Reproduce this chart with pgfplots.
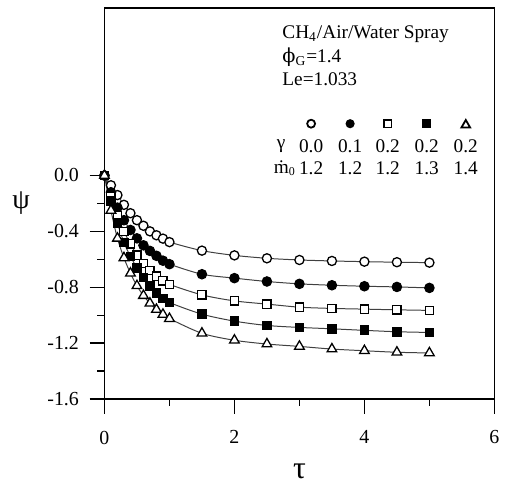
\documentclass[border=0pt]{standalone}
\usepackage{fontspec}
\setmainfont{Liberation Serif}
\newfontfamily\dvserif{DejaVu Serif}
\usepackage{pgfplots}
\usepackage{pgfplotstable}
\pgfplotsset{compat=1.18}

% psi vs tau, five spray cases
\pgfplotstableread{
tau  s1     s2     s3     s4     s5
0.0  0.000  0.000  0.000  0.000  0.000
0.1 -0.070 -0.120 -0.150 -0.180 -0.250
0.2 -0.140 -0.230 -0.290 -0.340 -0.450
0.3 -0.210 -0.320 -0.400 -0.480 -0.590
0.4 -0.270 -0.390 -0.490 -0.580 -0.700
0.5 -0.320 -0.450 -0.570 -0.660 -0.790
0.6 -0.360 -0.500 -0.630 -0.730 -0.860
0.7 -0.400 -0.540 -0.680 -0.790 -0.915
0.8 -0.428 -0.575 -0.720 -0.840 -0.960
0.9 -0.452 -0.610 -0.755 -0.880 -0.995
1.0 -0.477 -0.635 -0.780 -0.910 -1.025
1.5 -0.538 -0.707 -0.855 -0.993 -1.130
2.0 -0.572 -0.735 -0.898 -1.043 -1.180
2.5 -0.593 -0.759 -0.921 -1.074 -1.207
3.0 -0.605 -0.776 -0.943 -1.088 -1.224
3.5 -0.612 -0.786 -0.952 -1.098 -1.243
4.0 -0.617 -0.793 -0.957 -1.109 -1.255
4.5 -0.621 -0.798 -0.962 -1.119 -1.266
5.0 -0.624 -0.805 -0.966 -1.124 -1.271
}\psidata

\newcommand{\txt}{\fontsize{9.7}{11}\selectfont}

\begin{document}
\begin{tikzpicture}
\begin{axis}[
    scale only axis,
    width=196pt, height=196.5pt,
    xmin=0, xmax=6, ymin=-1.6, ymax=1.2,
    xtick={0,2,4,6}, minor xtick={1,3,5},
    ytick={-1.6,-1.2,-0.8,-0.4,0}, minor ytick={-1.4,-1.0,-0.6,-0.2},
    tick align=outside, xtick pos=left, ytick pos=left,
    major tick length=7.5pt, minor tick length=3.5pt,
    tick style={black, line width=0.6pt},
    axis line style={line width=0.7pt},
    /pgf/number format/assume math mode=true,
    ticklabel style={font=\fontsize{10}{12}\selectfont},
    x tick label style={yshift=-5pt},
    y tick label style={xshift=-1.8pt, /pgf/number format/fixed, /pgf/number format/fixed zerofill, /pgf/number format/precision=1},
    xlabel={τ}, ylabel={ψ},
    xlabel style={font=\fontsize{16}{18}\selectfont, yshift=-3pt},
    ylabel style={font=\fontsize{14}{16}\selectfont, rotate=-90, xshift=-2pt},
    clip=false,
    every axis plot/.append style={smooth, line width=0.5pt, black!75},
]

\addplot[mark=*, mark size=2.3pt, mark options={black, fill=white, line width=0.65pt}] table[x=tau, y=s1] {\psidata};
\addplot[mark=*, mark size=2.4pt, mark options={black, fill=black}] table[x=tau, y=s2] {\psidata};
\addplot[mark=square*, mark size=2.1pt, mark options={black, fill=white, line width=0.65pt}] table[x=tau, y=s3] {\psidata};
\addplot[mark=square*, mark size=2.2pt, mark options={black, fill=black}] table[x=tau, y=s4] {\psidata};
\addplot[mark=triangle*, mark size=2.8pt, mark options={black, fill=white, line width=0.65pt}] table[x=tau, y=s5] {\psidata};

% case description
\node[anchor=west, font=\txt] at (axis cs:2.63,1.014) {CH\textsubscript{4}/Air/Water Spray};
\node[anchor=west, font=\txt] at (axis cs:2.63,0.850) {{\dvserif ϕ}\textsubscript{G}=1.4};
\node[anchor=west, font=\txt] at (axis cs:2.63,0.693) {Le=1.033};

% key table
\node at (axis cs:3.18,0.371) {\tikz\draw[line width=0.9pt, fill=white] (0,0) circle (2pt);};
\node at (axis cs:3.78,0.371) {\tikz\fill (0,0) circle (2.3pt);};
\node at (axis cs:4.36,0.371) {\tikz\draw[line width=0.9pt, fill=white] (-1.9pt,-1.9pt) rectangle (1.9pt,1.9pt);};
\node at (axis cs:4.96,0.371) {\tikz\fill (-2.2pt,-2.2pt) rectangle (2.2pt,2.2pt);};
\node at (axis cs:5.56,0.371) {\tikz\draw[line width=0.9pt, fill=white] (90:2.5pt) -- (210:2.5pt) -- (330:2.5pt) -- cycle;};

\node[font=\txt] at (axis cs:2.72,0.207) {γ};
\node[font=\txt] at (axis cs:3.18,0.207) {0.0};
\node[font=\txt] at (axis cs:3.78,0.207) {0.1};
\node[font=\txt] at (axis cs:4.36,0.207) {0.2};
\node[font=\txt] at (axis cs:4.96,0.207) {0.2};
\node[font=\txt] at (axis cs:5.56,0.207) {0.2};

\node[font=\txt, anchor=west, inner sep=0pt] at (axis cs:2.60,0.05) {\.{m}{\fontsize{6}{7}\selectfont\raisebox{-1pt}{0}}};
\node[font=\txt] at (axis cs:3.18,0.05) {1.2};
\node[font=\txt] at (axis cs:3.78,0.05) {1.2};
\node[font=\txt] at (axis cs:4.36,0.05) {1.2};
\node[font=\txt] at (axis cs:4.96,0.05) {1.3};
\node[font=\txt] at (axis cs:5.56,0.05) {1.4};
\end{axis}
% keep the reference margins
\path (current axis.south west) ++(-52.5pt,-37.5pt);
\path (current axis.north east) ++(4.5pt,4pt);
\end{tikzpicture}
\end{document}
